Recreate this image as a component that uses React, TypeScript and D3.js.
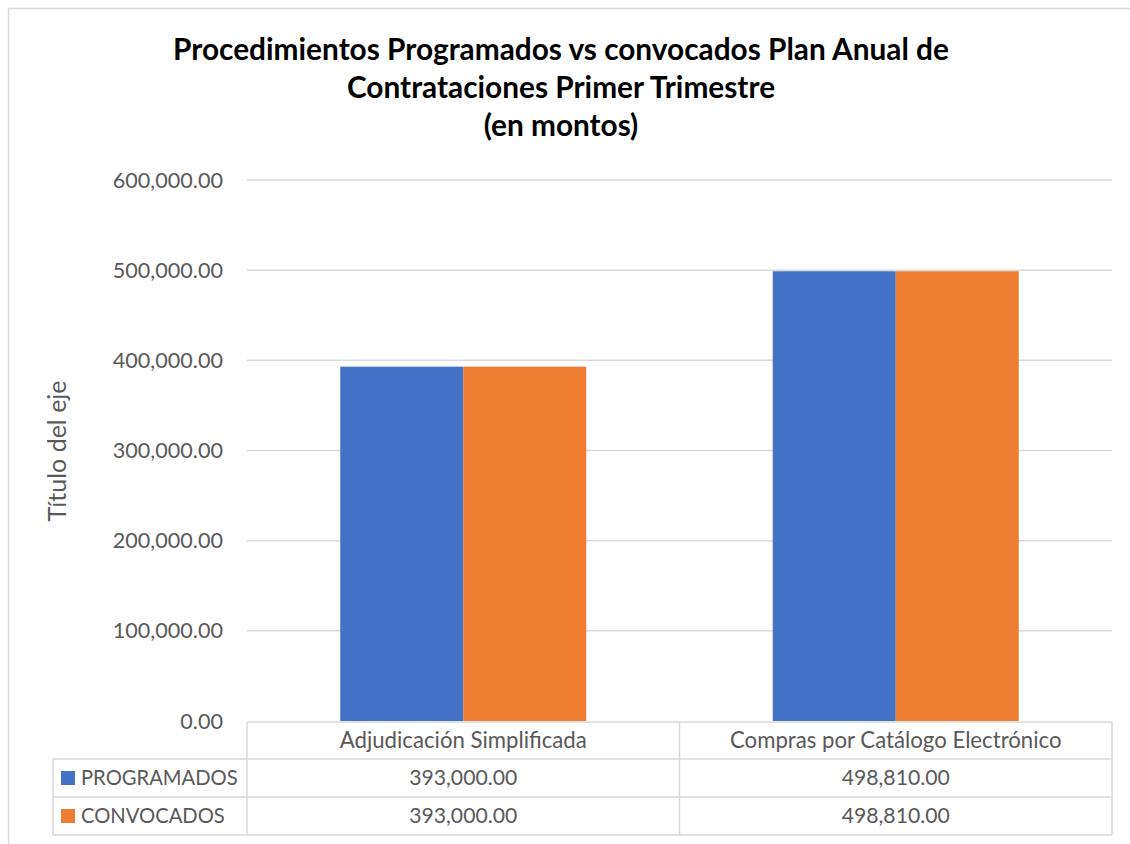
import React from "react";
import * as d3 from "d3";

const titleLines = [
  "Procedimientos Programados vs convocados Plan Anual de",
  "Contrataciones Primer Trimestre",
  "(en montos)",
];
const categories = ["Adjudicación Simplificada", "Compras por Catálogo Electrónico"];
const seriesNames = ["PROGRAMADOS", "CONVOCADOS"];
const programados = [393000, 498810];
const convocados = [393000, 498810];
const yTicks = [0, 100000, 200000, 300000, 400000, 500000, 600000];
const axisTitle = "Título del eje";
const colors = ["#4472C4", "#ED7D31"];

const W = 1130;
const H = 844;
const FONT = "Lato, 'Open Sans', sans-serif";
const TXT = "#595959";
const GRID = "#d9d9d9";

export default function App() {
  const left = 247;
  const right = 1112;
  const top = 180;
  const bottom = 721;
  const y = d3.scaleLinear().domain([0, 600000]).range([bottom, top]);
  const x0 = d3.scaleBand<string>().domain(categories).range([left, right]).padding(0);
  const x1 = d3
    .scaleBand<string>()
    .domain(seriesNames)
    .range([0, x0.bandwidth()])
    .paddingInner(0)
    .paddingOuter(0.758);
  const values = [programados, convocados];
  const fmt = (v: number) => d3.format(",.2f")(v);

  const rowTops = [722, 759, 797, 835];
  const legendLeft = 53;

  return (
    <svg width={W} height={H} style={{ position: "absolute", left: 0, top: 0, background: "#fff" }}>
      <rect x={0} y={0} width={W} height={H} fill="#fff" />
      {/* outer frame */}
      <path d={`M8.5,${H + 5} V8.5 H${W + 5}`} fill="none" stroke={GRID} strokeWidth={1.5} />
      {/* title */}
      <text fontFamily={FONT} fontWeight="bold" fontSize={29.8} fill="#000" textAnchor="middle">
        {titleLines.map((t, i) => (
          <tspan key={i} x={561} y={60 + i * 38}>
            {t}
          </tspan>
        ))}
      </text>
      {/* grid lines */}
      {yTicks.map((t) => (
        <g key={t}>
          {t !== 0 && (
            <line x1={left} x2={right} y1={y(t)} y2={y(t)} stroke={GRID} strokeWidth={1.5} />
          )}
          <text
            x={223}
            y={y(t)}
            dy="0.35em"
            textAnchor="end"
            fontFamily={FONT}
            fontSize={21.6}
            fill={TXT}
          >
            {fmt(t)}
          </text>
        </g>
      ))}
      {/* axis title */}
      <text
        transform={`translate(66,451) rotate(-90)`}
        textAnchor="middle"
        fontFamily={FONT}
        fontSize={25}
        fill={TXT}
      >
        {axisTitle}
      </text>
      {/* bars */}
      {categories.map((c, ci) => (
        <g key={c} transform={`translate(${x0(c)},0)`}>
          {seriesNames.map((s, si) => (
            <rect
              key={s}
              x={x1(s)}
              y={y(values[si][ci])}
              width={x1.bandwidth()}
              height={y(0) - y(values[si][ci])}
              fill={colors[si]}
            />
          ))}
        </g>
      ))}
      {/* data table */}
      <g stroke={GRID} strokeWidth={1.5} fill="none">
        <line x1={left} x2={right} y1={rowTops[0]} y2={rowTops[0]} />
        {rowTops.slice(1).map((r) => (
          <line key={r} x1={legendLeft} x2={right} y1={r} y2={r} />
        ))}
        <line x1={legendLeft} x2={legendLeft} y1={rowTops[1]} y2={rowTops[3]} />
        <line x1={left} x2={left} y1={rowTops[0]} y2={rowTops[3]} />
        <line x1={x0(categories[1])} x2={x0(categories[1])} y1={rowTops[0]} y2={rowTops[3]} />
        <line x1={right} x2={right} y1={rowTops[0]} y2={rowTops[3]} />
      </g>
      {categories.map((c) => (
        <text
          key={c}
          x={(x0(c) as number) + x0.bandwidth() / 2}
          y={(rowTops[0] + rowTops[1]) / 2}
          dy="0.35em"
          textAnchor="middle"
          fontFamily={FONT}
          fontSize={22.2}
          fill={TXT}
        >
          {c}
        </text>
      ))}
      {seriesNames.map((s, si) => {
        const cy = (rowTops[si + 1] + rowTops[si + 2]) / 2;
        return (
          <g key={s}>
            <rect x={61} y={cy - 7} width={14} height={14} fill={colors[si]} />
            <text x={81} y={cy} dy="0.35em" fontFamily={FONT} fontSize={20.2} fill={TXT}>
              {s}
            </text>
            {categories.map((c, ci) => (
              <text
                key={c}
                x={(x0(c) as number) + x0.bandwidth() / 2}
                y={cy}
                dy="0.35em"
                textAnchor="middle"
                fontFamily={FONT}
                fontSize={21.2}
                fill={TXT}
              >
                {fmt(values[si][ci])}
              </text>
            ))}
          </g>
        );
      })}
    </svg>
  );
}
